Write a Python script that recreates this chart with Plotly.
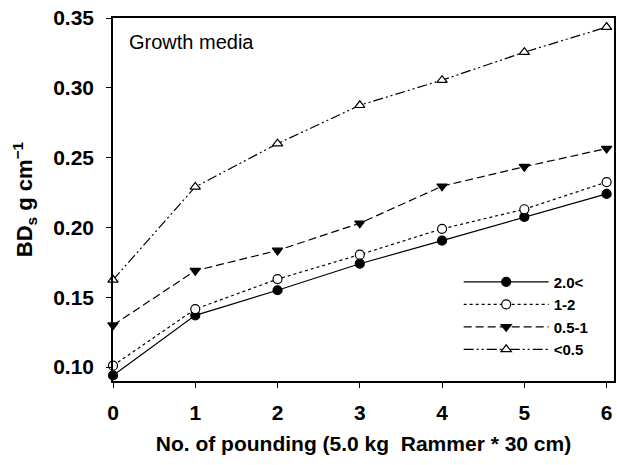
import plotly.graph_objects as go

x_pound = [0, 1, 2, 3, 4, 5, 6]
bd_gt2 = [0.094, 0.137, 0.155, 0.174, 0.1905, 0.2075, 0.224]
bd_1_2 = [0.101, 0.1415, 0.163, 0.1805, 0.199, 0.213, 0.2325]
bd_05_1 = [0.130, 0.169, 0.1835, 0.203, 0.2295, 0.2435, 0.2565]
bd_lt05 = [0.1625, 0.229, 0.260, 0.2875, 0.3055, 0.3255, 0.3435]
series_names = ["2.0<", "1-2", "0.5-1", "<0.5"]

FONT = "Liberation Sans, Arial, sans-serif"
fig = go.Figure()

styles = [
    (bd_gt2, dict(symbol="circle", color="black", line=dict(color="black", width=1.2)), "solid"),
    (bd_1_2, dict(symbol="circle", color="white", line=dict(color="black", width=1.2)), "dot"),
    (bd_05_1, dict(symbol="triangle-down", color="black", line=dict(color="black", width=1.2)), "8px,4px"),
    (bd_lt05, dict(symbol="triangle-up", color="white", line=dict(color="black", width=1.2)), "10px,3px,2px,3px,2px,3px"),
]
for name, (vals, mk, dash) in zip(series_names, styles):
    fig.add_trace(go.Scatter(
        x=x_pound, y=vals, name=name, mode="lines+markers",
        line=dict(color="black", width=1.2, dash=dash),
        marker=dict(size=9, **mk), cliponaxis=False,
    ))

fig.add_annotation(text="Growth media", xref="paper", yref="paper",
                   x=0.027, y=0.935, xanchor="left", yanchor="middle", showarrow=False,
                   font=dict(family=FONT, size=20, color="black"))

fig.update_layout(
    width=617, height=465,
    margin=dict(l=113, r=1, t=18, b=84),
    paper_bgcolor="white", plot_bgcolor="white",
    font=dict(family=FONT, color="black"),
    showlegend=True,
    legend=dict(x=0.69, y=0.318, xanchor="left", yanchor="top",
                bgcolor="rgba(0,0,0,0)", itemwidth=85, tracegroupgap=0,
                font=dict(family=FONT, size=15, color="black", weight="bold")),
    xaxis=dict(range=[0, 6.09], tickvals=x_pound, ticks="outside", ticklen=5,
               tickwidth=1.2, tickcolor="black", showline=True, linecolor="black",
               linewidth=1.5, mirror=True, showgrid=False, zeroline=False,
               ticklabelstandoff=7,
               tickfont=dict(family=FONT, size=21, weight="bold"),
               title=dict(text="No. of pounding (5.0 kg&nbsp; Rammer * 30 cm)",
                          font=dict(family=FONT, size=21, weight="bold"), standoff=13)),
    yaxis=dict(range=[0.09, 0.35], tickvals=[0.10, 0.15, 0.20, 0.25, 0.30, 0.35],
               tickformat=".2f", ticks="outside", ticklen=5, tickwidth=1.2,
               tickcolor="black", showline=True, linecolor="black", linewidth=1.5,
               mirror=True, showgrid=False, zeroline=False,
               ticklabelstandoff=8,
               tickfont=dict(family=FONT, size=21, weight="bold"),
               title=dict(text="BD<sub>s</sub> g cm<sup>−1</sup>",
                          font=dict(family=FONT, size=22, weight="bold"), standoff=14)),
)

fig.write_html("out.html")
